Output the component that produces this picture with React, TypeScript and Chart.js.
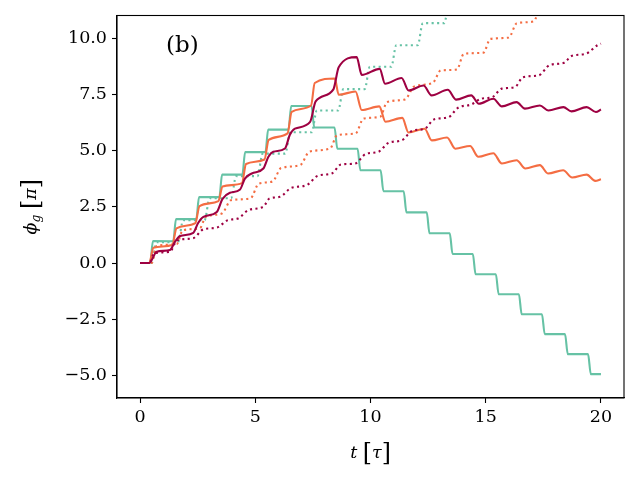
import { useEffect, useRef } from "react"
import { Chart, registerables } from "chart.js"

Chart.register(...registerables)

// t [tau] and phi_g [pi] pairs
const greenSolid: [number, number][] = [
  [0, 0], [0.44, 0], [0.56, 0.97], [1.44, 0.97], [1.56, 1.95], [2.44, 1.95], [2.56, 2.93],
  [3.44, 2.93], [3.56, 3.93], [4.44, 3.93], [4.56, 4.93], [5.44, 4.93], [5.56, 5.93],
  [6.44, 5.93], [6.56, 6.98], [7.44, 6.98], [7.56, 6.02], [8.44, 6.02], [8.56, 5.08],
  [9.44, 5.08], [9.56, 4.12], [10.44, 4.12], [10.56, 3.19], [11.44, 3.19], [11.56, 2.25],
  [12.44, 2.25], [12.56, 1.32], [13.44, 1.32], [13.56, 0.4], [14.44, 0.4], [14.56, -0.5],
  [15.44, -0.5], [15.56, -1.39], [16.44, -1.39], [16.56, -2.28], [17.44, -2.28],
  [17.56, -3.16], [18.44, -3.16], [18.56, -4.05], [19.44, -4.05], [19.56, -4.94], [20, -4.94],
]

const greenDotted: [number, number][] = [
  [0, 0], [0.5, 0], [0.72, 0.93], [1.65, 0.93], [1.87, 1.9], [2.8, 1.9], [3.02, 2.88],
  [3.95, 2.88], [4.17, 3.86], [5.1, 3.86], [5.32, 4.86], [6.3, 4.86], [6.52, 5.81],
  [7.45, 5.81], [7.67, 6.78], [8.6, 6.78], [8.82, 7.73], [9.75, 7.73], [9.97, 8.72],
  [10.9, 8.72], [11.12, 9.68], [12.05, 9.68], [12.27, 10.66], [13.2, 10.66], [13.42, 11.62],
  [14.35, 11.62], [14.57, 12.6],
]

const orangeSolid: [number, number][] = [
  [0, 0], [0.4, 0], [0.58, 0.68], [1.4, 0.8], [1.58, 1.54], [2.4, 1.77], [2.58, 2.53],
  [3.4, 2.75], [3.58, 3.4], [4.42, 3.55], [4.6, 4.4], [5.4, 4.6], [5.58, 5.47], [6.4, 5.76],
  [6.58, 6.72], [7.42, 7.0], [7.58, 8.0], [8.45, 8.2], [8.62, 7.48], [9.35, 7.62],
  [9.62, 6.8], [10.38, 6.96], [10.65, 6.28], [11.38, 6.45], [11.65, 5.8], [12.35, 5.97],
  [12.66, 5.45], [13.32, 5.58], [13.68, 5.08], [14.32, 5.2], [14.68, 4.72], [15.33, 4.88],
  [15.7, 4.42], [16.34, 4.57], [16.72, 4.2], [17.35, 4.35], [17.7, 3.98], [18.36, 4.12],
  [18.75, 3.8], [19.38, 3.93], [19.75, 3.65], [20, 3.72],
]

const orangeDotted: [number, number][] = [
  [0, 0], [0.5, 0], [0.72, 0.75], [1.6, 0.85], [1.85, 1.45], [2.6, 1.55], [2.85, 2.05],
  [3.55, 2.2], [3.95, 2.79], [4.8, 2.88], [5.15, 3.53], [5.75, 3.62], [6.12, 4.22],
  [6.95, 4.35], [7.35, 4.95], [8.25, 5.09], [8.55, 5.68], [9.35, 5.76], [9.7, 6.42],
  [10.42, 6.5], [10.72, 7.15], [11.5, 7.27], [11.9, 7.85], [12.7, 8.0], [13.05, 8.56],
  [13.75, 8.6], [14.05, 9.3], [14.9, 9.35], [15.2, 9.96], [16.0, 10.02], [16.35, 10.66],
  [17.08, 10.74], [17.4, 11.4], [18.2, 11.48], [18.5, 12.1],
]

const redSolid: [number, number][] = [
  [0, 0], [0.4, 0], [0.72, 0.5], [1.3, 0.58], [1.52, 0.95], [1.74, 1.2], [2.31, 1.34],
  [2.52, 1.78], [2.75, 2.05], [3.33, 2.27], [3.58, 2.85], [3.9, 3.12], [4.34, 3.27],
  [4.55, 3.75], [4.85, 3.98], [5.35, 4.2], [5.57, 4.72], [5.78, 4.94], [6.29, 5.09],
  [6.5, 5.7], [6.72, 5.97], [7.38, 6.27], [7.62, 7.18], [8.39, 7.72], [8.62, 8.7],
  [9.4, 9.15], [9.62, 8.36], [10.4, 8.63], [10.63, 7.97], [11.35, 8.22], [11.65, 7.67],
  [12.3, 7.89], [12.65, 7.45], [13.35, 7.7], [13.72, 7.26], [14.37, 7.45], [14.7, 7.08],
  [15.33, 7.3], [15.7, 6.96], [16.34, 7.15], [16.7, 6.86], [17.35, 7.0], [17.72, 6.78],
  [18.37, 6.93], [18.72, 6.74], [19.38, 6.93], [19.78, 6.71], [20, 6.82],
]

const redDotted: [number, number][] = [
  [0, 0], [0.4, 0], [0.62, 0.44], [1.3, 0.5], [1.6, 1.0], [2.3, 1.1], [2.75, 1.5],
  [3.33, 1.57], [3.8, 1.9], [4.25, 1.98], [4.72, 2.36], [5.35, 2.5], [5.62, 2.87],
  [6.07, 2.94], [6.55, 3.33], [7.23, 3.46], [7.72, 3.88], [8.32, 3.98], [8.72, 4.38],
  [9.33, 4.42], [9.8, 4.85], [10.34, 4.94], [10.8, 5.35], [11.35, 5.45], [11.82, 5.88],
  [12.36, 5.97], [12.75, 6.38], [13.38, 6.48], [13.8, 6.9], [14.39, 7.05], [14.8, 7.3],
  [15.28, 7.37], [15.7, 7.75], [16.27, 7.82], [16.62, 8.26], [17.3, 8.34], [17.78, 8.8],
  [18.4, 8.9], [18.72, 9.2], [19.35, 9.3], [19.85, 9.68], [20, 9.75],
]

const xTicks = [0, 5, 10, 15, 20]
const yTicks = [-5, -2.5, 0, 2.5, 5, 7.5, 10]

const GREEN = "#66c2a5"
const ORANGE = "#f46d43"
const RED = "#9e0142"
const SERIF = "'DejaVu Serif', serif"
const DOTS = [2.1, 3.4]

type Run = { text: string; italic?: boolean; scale?: number; dy?: number }

function drawRuns(ctx: CanvasRenderingContext2D, runs: Run[], size: number) {
  const fontFor = (r: Run) =>
    `${r.italic ? "italic " : ""}${size * (r.scale ?? 1)}px ${SERIF}`
  let total = 0
  for (const r of runs) {
    ctx.font = fontFor(r)
    total += ctx.measureText(r.text).width
  }
  let x = -total / 2
  for (const r of runs) {
    ctx.font = fontFor(r)
    ctx.fillText(r.text, x, r.dy ?? 0)
    x += ctx.measureText(r.text).width
  }
}

const textPlugin = {
  id: "axisText",
  afterDraw(chart: Chart) {
    const { ctx, chartArea } = chart
    const { left, right, top, bottom } = chartArea
    ctx.save()
    ctx.strokeStyle = "#000"
    ctx.lineWidth = 1.1
    ctx.strokeRect(left, top, right - left, bottom - top)

    ctx.fillStyle = "#000"
    ctx.textBaseline = "alphabetic"
    ctx.textAlign = "left"

    ctx.save()
    ctx.translate((left + right) / 2, 458)
    drawRuns(ctx, [
      { text: "t", italic: true },
      { text: " " },
      { text: "[", scale: 1.35, dy: 2 },
      { text: "τ", italic: true },
      { text: "]", scale: 1.35, dy: 2 },
    ], 17.5)
    ctx.restore()

    ctx.save()
    ctx.translate(36, (top + bottom) / 2)
    ctx.rotate(-Math.PI / 2)
    drawRuns(ctx, [
      { text: "ϕ", italic: true },
      { text: "g", italic: true, scale: 0.7, dy: 3.5 },
      { text: " " },
      { text: "[", scale: 1.35, dy: 2 },
      { text: "π", italic: true },
      { text: "]", scale: 1.35, dy: 2 },
    ], 17.5)
    ctx.restore()

    ctx.font = `23px ${SERIF}`
    ctx.fillText("(b)", left + 49, top + 36)
    ctx.restore()
  },
}

const fmt = (v: number) => v.toFixed(1).replace("-", "\u2212")

export default function App() {
  const canvasRef = useRef<HTMLCanvasElement | null>(null)
  const chartRef = useRef<Chart | null>(null)

  useEffect(() => {
    if (!canvasRef.current) return
    if (chartRef.current) chartRef.current.destroy()

    const series = [
      { data: greenSolid, color: GREEN, dotted: false },
      { data: greenDotted, color: GREEN, dotted: true },
      { data: orangeSolid, color: ORANGE, dotted: false },
      { data: orangeDotted, color: ORANGE, dotted: true },
      { data: redSolid, color: RED, dotted: false },
      { data: redDotted, color: RED, dotted: true },
    ]

    chartRef.current = new Chart(canvasRef.current, {
      type: "line",
      data: {
        datasets: series.map((s, i) => ({
          data: s.data.map(([x, y]) => ({ x, y })),
          borderColor: s.color,
          borderWidth: 2.1,
          borderDash: s.dotted ? DOTS : [],
          borderCapStyle: "butt" as const,
          pointRadius: 0,
          fill: false,
          cubicInterpolationMode: "monotone" as const,
          order: series.length - i,
        })),
      },
      options: {
        animation: false,
        responsive: false,
        devicePixelRatio: 1,
        layout: { padding: { top: 15, right: 16, left: 0, bottom: 0 } },
        plugins: { legend: { display: false }, tooltip: { enabled: false } },
        scales: {
          x: {
            type: "linear",
            min: -1,
            max: 21,
            afterBuildTicks: (s: any) => {
              s.ticks = xTicks.map((value) => ({ value }))
            },
            afterFit: (s: any) => {
              s.height = 82
            },
            grid: { drawOnChartArea: false, tickLength: 5, tickColor: "#000", tickWidth: 1.1 },
            border: { color: "#000", width: 1.1 },
            ticks: {
              color: "#000",
              font: { family: SERIF, size: 17.5 },
              padding: 4,
              maxRotation: 0,
              autoSkip: false,
              callback: (v: any) => String(v),
            },
          },
          y: {
            type: "linear",
            min: -6,
            max: 11,
            afterBuildTicks: (s: any) => {
              s.ticks = yTicks.map((value) => ({ value }))
            },
            afterFit: (s: any) => {
              s.width = 117
            },
            grid: { drawOnChartArea: false, tickLength: 5, tickColor: "#000", tickWidth: 1.1 },
            border: { color: "#000", width: 1.1 },
            ticks: {
              color: "#000",
              font: { family: SERIF, size: 17.5 },
              padding: 5,
              autoSkip: false,
              callback: (v: any) => fmt(Number(v)),
            },
          },
        },
      },
      plugins: [textPlugin],
    })

    return () => {
      if (chartRef.current) {
        chartRef.current.destroy()
        chartRef.current = null
      }
    }
  }, [])

  return (
    <div style={{ position: "absolute", left: 0, top: 0, width: 640, height: 480, background: "#fff" }}>
      <canvas ref={canvasRef} width={640} height={480} style={{ display: "block" }} />
    </div>
  )
}
